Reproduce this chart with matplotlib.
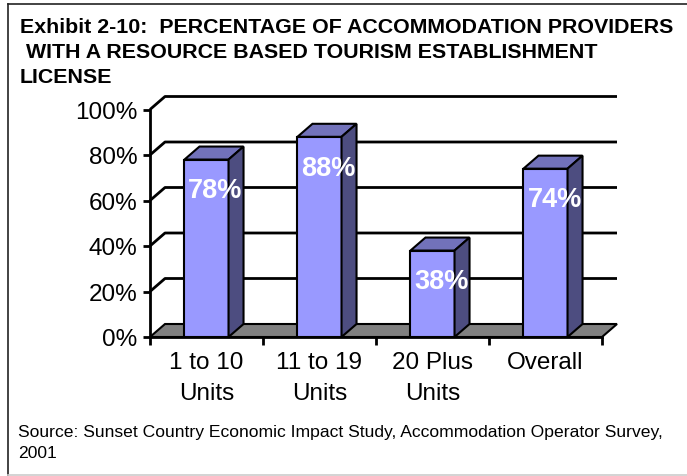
import matplotlib
matplotlib.use('Agg')
import matplotlib.pyplot as plt
from matplotlib.patches import Polygon
from matplotlib.lines import Line2D

categories = ['1 to 10\nUnits', '11 to 19\nUnits', '20 Plus\nUnits', 'Overall']
values = [78, 88, 38, 74]
bar_labels = ['78%', '88%', '38%', '74%']
y_ticks = [0, 20, 40, 60, 80, 100]
y_tick_labels = ['0%', '20%', '40%', '60%', '80%', '100%']

title_lines = ['Exhibit 2-10:  PERCENTAGE OF ACCOMMODATION PROVIDERS',
               ' WITH A RESOURCE BASED TOURISM ESTABLISHMENT',
               'LICENSE']
source_lines = ['Source: Sunset Country Economic Impact Study, Accommodation Operator Survey,',
                '2001']

plt.rcParams['font.family'] = ['Liberation Sans', 'DejaVu Sans']

W, H = 687, 477
fig = plt.figure(figsize=(W / 100, H / 100), dpi=100)

# axes = front plane of the 3d box
ax = fig.add_axes([150 / W, 1 - 338 / H, 452 / W, 227.5 / H])
ax.set_xlim(-0.5, 3.5)
ax.set_ylim(0, 100)

# depth of the box, in data units
dx = 15 / 113.0
dy = 13 / 2.275
bw = 0.39

front_col = '#9999FF'
top_col = '#7272BA'
side_col = '#4D4D80'

# floor
floor = Polygon([(-0.5, 0), (3.5, 0), (3.5 + dx, dy), (-0.5 + dx, dy)],
                closed=True, facecolor='#808080', edgecolor='black', lw=1.5,
                clip_on=False, zorder=1)
ax.add_patch(floor)

# gridlines on the side and back walls
for t in y_ticks[1:]:
    ax.plot([-0.5, -0.5 + dx, 3.5 + dx], [t, t + dy, t + dy], color='black',
            lw=2, clip_on=False, zorder=1, solid_capstyle='butt')

# 3d columns
for i, v in enumerate(values):
    x0 = i - bw / 2
    x1 = i + bw / 2
    ax.bar(i, v, width=bw, color=front_col, edgecolor='black', lw=1.5, zorder=3)
    top = Polygon([(x0, v), (x1, v), (x1 + dx, v + dy), (x0 + dx, v + dy)],
                  closed=True, facecolor=top_col, edgecolor='black', lw=1.5,
                  clip_on=False, zorder=3)
    side = Polygon([(x1, 0), (x1 + dx, dy), (x1 + dx, v + dy), (x1, v)],
                   closed=True, facecolor=side_col, edgecolor='black', lw=1.5,
                   clip_on=False, zorder=3)
    ax.add_patch(top)
    ax.add_patch(side)
    ax.text(i + 0.08, v - 13.5, bar_labels[i], color='white', fontsize=19.5,
            fontweight='bold', ha='center', va='center', zorder=5)

# axes styling
for s in ['top', 'right']:
    ax.spines[s].set_visible(False)
for s in ['left', 'bottom']:
    ax.spines[s].set_linewidth(2)
    ax.spines[s].set_zorder(4)
ax.set_yticks(y_ticks, y_tick_labels)
ax.tick_params(axis='y', direction='out', length=5, width=2, labelsize=17.5, pad=4)
ax.set_xticks(range(len(categories)), categories)
ax.set_xticks([-0.5, 0.5, 1.5, 2.5, 3.5], minor=True)
ax.tick_params(axis='x', which='major', length=0, labelsize=17.5, pad=10)
ax.tick_params(axis='x', which='minor', direction='out', length=6, width=2)
for lab in ax.get_xticklabels():
    lab.set_linespacing(1.55)

# title and source
for k, line in enumerate(title_lines):
    fig.text(20 / W, 1 - (33 + 25 * k) / H, line, fontsize=15.4,
             fontweight='bold', ha='left', va='baseline')
for k, line in enumerate(source_lines):
    fig.text(18 / W, 1 - (437 + 21 * k) / H, line, fontsize=12.6,
             ha='left', va='baseline')

# frame around the exhibit
fig.add_artist(Line2D([8 / W, 1], [1 - 5 / H, 1 - 5 / H], color='#222222', lw=1.2))
fig.add_artist(Line2D([8 / W, 8 / W], [1 - 5 / H, 1 - 476 / H], color='#222222', lw=1.2))
fig.add_artist(Line2D([8 / W, 1], [1 - 476 / H, 1 - 476 / H], color='#cccccc', lw=1.2))

fig.savefig('out.png', dpi=100)
